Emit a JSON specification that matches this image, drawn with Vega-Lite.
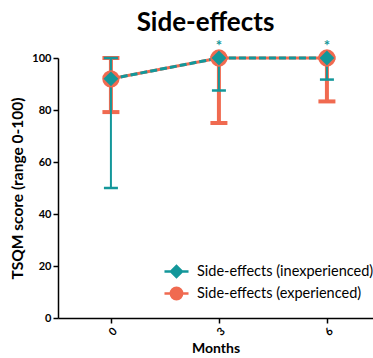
{
  "$schema": "https://vega.github.io/schema/vega-lite/v6.json",
  "width": 315,
  "height": 260,
  "autosize": "none",
  "padding": {"left": 58, "top": 58, "right": 0, "bottom": 40},
  "title": {"text": "Side-effects", "font": "Lato", "fontSize": 26, "fontWeight": "bold", "color": "#000", "anchor": "middle", "dx": -10, "offset": 3},
  "config": {
    "view": {"stroke": null},
    "axis": {"labelFont": "Lato", "titleFont": "Lato", "labelFontWeight": "bold", "titleFontWeight": "bold", "labelColor": "#000", "titleColor": "#000", "domainColor": "#000", "tickColor": "#000", "domainWidth": 1.5, "tickWidth": 1.5, "grid": false, "labelFontSize": 11, "titleFontSize": 14},
    "legend": {"labelFont": "Lato"}
  },
  "datasets": {
    "stats": [
      {"month": 0, "group": "Side-effects (inexperienced)", "mean": 92, "lo": 50, "hi": 100},
      {"month": 3, "group": "Side-effects (inexperienced)", "mean": 100, "lo": 87.5, "hi": 100},
      {"month": 6, "group": "Side-effects (inexperienced)", "mean": 100, "lo": 91.7, "hi": 100},
      {"month": 0, "group": "Side-effects (experienced)", "mean": 92, "lo": 79.2, "hi": 100},
      {"month": 3, "group": "Side-effects (experienced)", "mean": 100, "lo": 75, "hi": 100},
      {"month": 6, "group": "Side-effects (experienced)", "mean": 100, "lo": 83.3, "hi": 100}
    ],
    "stars": [
      {"month": 3, "y": 100, "label": "*"},
      {"month": 6, "y": 100, "label": "*"}
    ]
  },
  "data": {"name": "stats"},
  "encoding": {
    "x": {"field": "month", "type": "quantitative", "scale": {"domain": [-1.47, 7.28], "nice": false, "zero": false},
      "axis": {"values": [0, 3, 6], "labelAngle": -45, "title": "Months", "tickSize": 5, "titlePadding": 4}}
  },
  "layer": [
    {
      "transform": [{"filter": "datum.group === 'Side-effects (experienced)'"}],
      "mark": {"type": "rule", "color": "#F06A50", "strokeWidth": 4},
      "encoding": {
        "y": {"field": "lo", "type": "quantitative", "scale": {"domain": [0, 100], "nice": false},
          "axis": {"values": [0, 20, 40, 60, 80, 100], "title": "TSQM score (range 0-100)", "titleFontSize": 15.5, "tickSize": 5, "titlePadding": 6}},
        "y2": {"field": "hi"}
      }
    },
    {
      "transform": [{"filter": "datum.group === 'Side-effects (experienced)'"}, {"fold": ["lo", "hi"], "as": ["k", "v"]}],
      "mark": {"type": "tick", "orient": "horizontal", "color": "#F06A50", "size": 17, "thickness": 4, "opacity": 1},
      "encoding": {"y": {"field": "v", "type": "quantitative"}}
    },
    {
      "transform": [{"filter": "datum.group === 'Side-effects (inexperienced)'"}],
      "mark": {"type": "rule", "color": "#13979A", "strokeWidth": 2},
      "encoding": {"y": {"field": "lo", "type": "quantitative"}, "y2": {"field": "hi"}}
    },
    {
      "transform": [{"filter": "datum.group === 'Side-effects (inexperienced)'"}, {"fold": ["lo", "hi"], "as": ["k", "v"]}],
      "mark": {"type": "tick", "orient": "horizontal", "color": "#13979A", "size": 14, "thickness": 2.5, "opacity": 1},
      "encoding": {"y": {"field": "v", "type": "quantitative"}}
    },
    {
      "transform": [{"filter": "datum.group === 'Side-effects (experienced)'"}],
      "mark": {"type": "line", "color": "#F06A50", "strokeWidth": 3},
      "encoding": {"y": {"field": "mean", "type": "quantitative"}}
    },
    {
      "transform": [{"filter": "datum.group === 'Side-effects (inexperienced)'"}],
      "mark": {"type": "line", "color": "#13979A", "strokeWidth": 3, "strokeDash": [7, 3]},
      "encoding": {"y": {"field": "mean", "type": "quantitative"}}
    },
    {
      "transform": [{"filter": "false"}],
      "mark": {"type": "point", "filled": true, "opacity": 1, "strokeWidth": 2.5},
      "encoding": {
        "y": {"field": "mean", "type": "quantitative"},
        "color": {"field": "group", "type": "nominal",
          "scale": {"domain": ["Side-effects (experienced)", "Side-effects (inexperienced)"], "range": ["#F06A50", "#13979A"]},
          "legend": {"orient": "none", "legendX": 110, "legendY": 205, "title": null, "labelFontSize": 14.5, "labelLimit": 400, "labelColor": "#000", "symbolSize": 200, "symbolStrokeWidth": 2.5, "rowPadding": 0, "labelOffset": 12,
            "values": ["Side-effects (inexperienced)", "Side-effects (experienced)"]}},
        "stroke": {"field": "group", "type": "nominal",
          "scale": {"domain": ["Side-effects (experienced)", "Side-effects (inexperienced)"], "range": ["#F06A50", "#13979A"]},
          "legend": {"orient": "none", "legendX": 110, "legendY": 205, "title": null, "values": ["Side-effects (inexperienced)", "Side-effects (experienced)"]}},
        "shape": {"field": "group", "type": "nominal",
          "scale": {"domain": ["Side-effects (experienced)", "Side-effects (inexperienced)"], "range": ["M-1.7,0L-0.8,0A0.8,0.8 0 1,1 0.8,0L1.7,0L0.8,0A0.8,0.8 0 1,1 -0.8,0Z", "M-1.7,0L-0.76,0L0,-0.76L0.76,0L1.7,0L0.76,0L0,0.76L-0.76,0Z"]},
          "legend": {"orient": "none", "legendX": 110, "legendY": 205, "title": null, "values": ["Side-effects (inexperienced)", "Side-effects (experienced)"]}},
        "size": {"value": 200}
      }
    },
    {
      "transform": [{"filter": "datum.group === 'Side-effects (experienced)'"}],
      "mark": {"type": "point", "shape": "circle", "filled": true, "opacity": 1, "color": "#F06A50", "size": 300},
      "encoding": {"y": {"field": "mean", "type": "quantitative"}}
    },
    {
      "transform": [{"filter": "datum.group === 'Side-effects (inexperienced)'"}],
      "mark": {"type": "point", "shape": "diamond", "filled": true, "opacity": 1, "color": "#13979A", "size": 220},
      "encoding": {"y": {"field": "mean", "type": "quantitative"}}
    },
    {
      "data": {"name": "stars"},
      "mark": {"type": "text", "color": "#13979A", "font": "Lato", "fontSize": 15, "fontWeight": "bold", "baseline": "middle", "dy": -12},
      "encoding": {"y": {"field": "y", "type": "quantitative"}, "text": {"field": "label"}}
    }
  ]
}
